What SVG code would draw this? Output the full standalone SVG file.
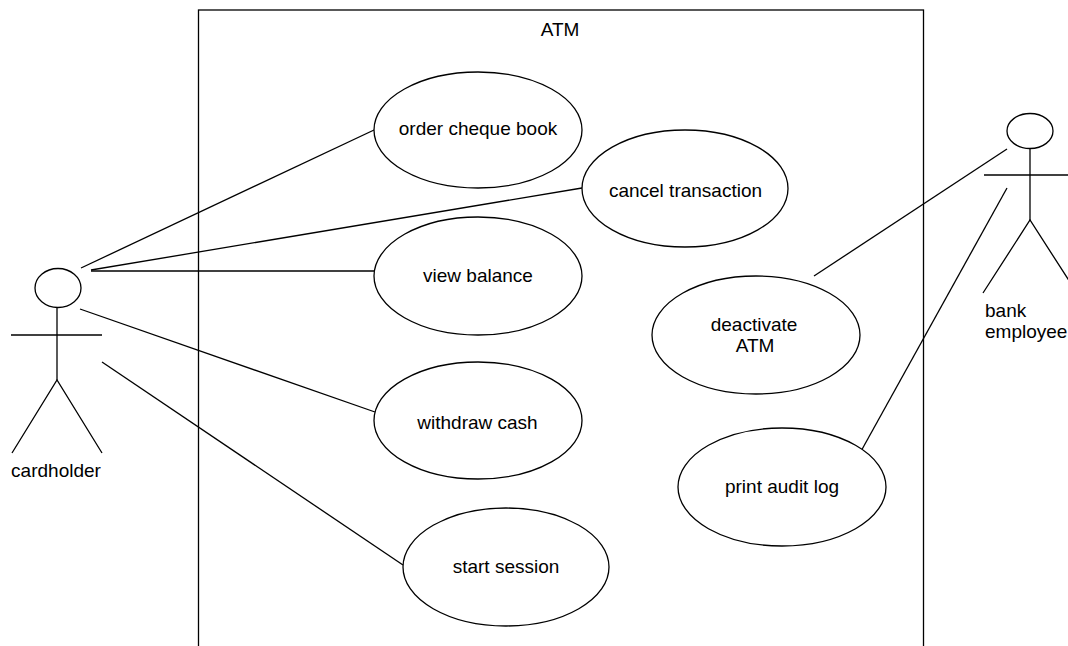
<svg xmlns="http://www.w3.org/2000/svg" width="1068" height="646" viewBox="0 0 1068 646">
<style>
.s{fill:none;stroke:#000;stroke-width:1.3}
.u{fill:#fff;stroke:#000;stroke-width:1.3}
text{font-family:"Liberation Sans",Arial,sans-serif;font-size:19px;fill:#000}
.m{text-anchor:middle}
</style>
<rect width="1068" height="646" fill="#fff"/>
<g id="system">
<rect class="s" x="198.5" y="10" width="725" height="660"/>
<text class="m" x="560" y="36">ATM</text>
</g>
<g id="connectors" class="s">
<line x1="81" y1="268" x2="374" y2="130"/>
<line x1="91" y1="270" x2="582" y2="188"/>
<line x1="91" y1="271" x2="374" y2="271"/>
<line x1="80" y1="309" x2="375" y2="412"/>
<line x1="102" y1="362" x2="403" y2="565"/>
<line x1="1007" y1="149" x2="814" y2="276"/>
<line x1="1007" y1="188" x2="860" y2="453"/>
</g>
<g id="cardholder">
<ellipse class="s" cx="58" cy="288" rx="23" ry="19.5"/>
<line class="s" x1="57" y1="307" x2="57" y2="380"/>
<line class="s" x1="11" y1="335" x2="102" y2="335"/>
<polyline class="s" points="12,453 57,380 102,453"/>
<text class="m" x="56" y="477">cardholder</text>
</g>
<g id="bank-employee">
<ellipse class="s" cx="1030" cy="131" rx="23" ry="17.5"/>
<line class="s" x1="1030" y1="148" x2="1030" y2="220"/>
<line class="s" x1="984" y1="175" x2="1075" y2="175"/>
<polyline class="s" points="983,293 1030,220 1077,293"/>
<text x="985" y="317">bank</text>
<text x="985" y="338">employee</text>
</g>
<g id="order-cheque-book">
<ellipse class="u" cx="478" cy="130" rx="104" ry="58"/>
<text class="m" x="478" y="135">order cheque book</text>
</g>
<g id="cancel-transaction">
<ellipse class="u" cx="685" cy="188.5" rx="103" ry="58.5"/>
<text class="m" x="685.5" y="197">cancel transaction</text>
</g>
<g id="view-balance">
<ellipse class="u" cx="478" cy="276" rx="104" ry="59"/>
<text class="m" x="478" y="282">view balance</text>
</g>
<g id="withdraw-cash">
<ellipse class="u" cx="478" cy="420.5" rx="104" ry="58.5"/>
<text class="m" x="477.5" y="429">withdraw cash</text>
</g>
<g id="start-session">
<ellipse class="u" cx="506" cy="567" rx="103" ry="59"/>
<text class="m" x="506" y="573">start session</text>
</g>
<g id="deactivate-atm">
<ellipse class="u" cx="756" cy="335" rx="104" ry="59"/>
<text class="m" x="754" y="331">deactivate</text>
<text class="m" x="755" y="352">ATM</text>
</g>
<g id="print-audit-log">
<ellipse class="u" cx="782" cy="487" rx="104" ry="59"/>
<text class="m" x="782" y="493">print audit log</text>
</g>
</svg>
